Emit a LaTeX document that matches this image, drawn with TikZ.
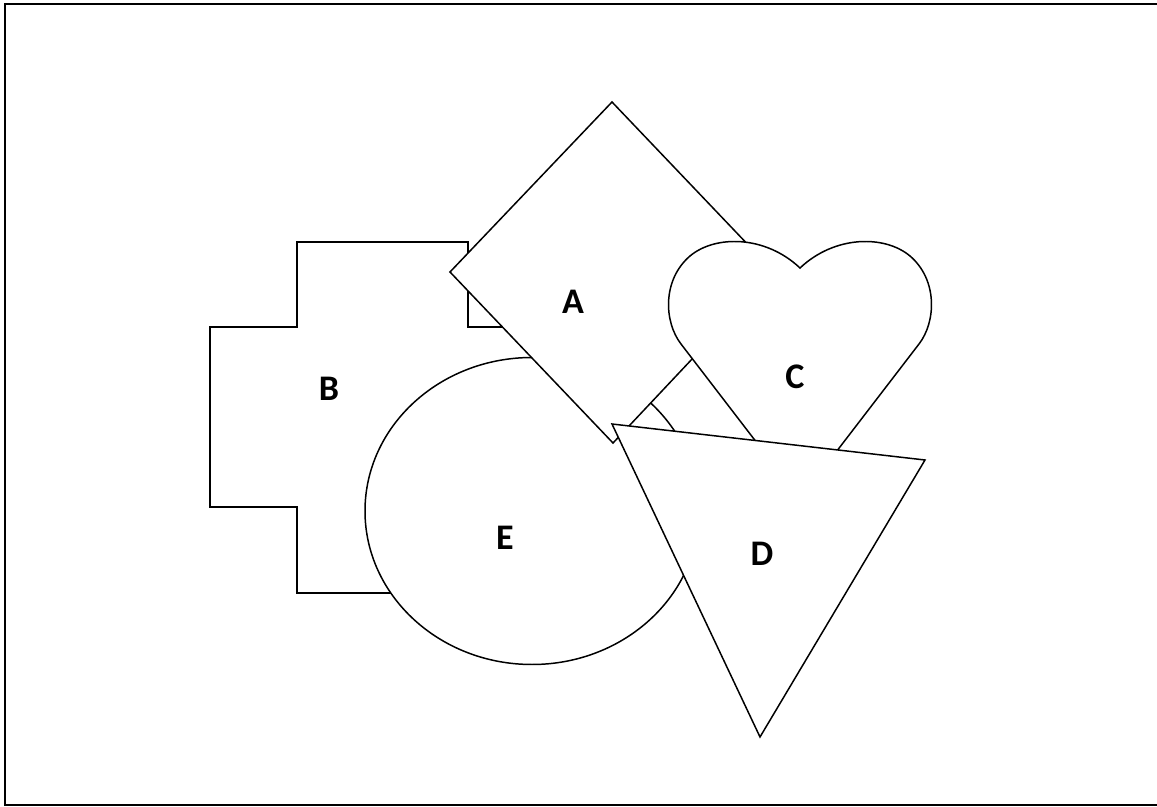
\documentclass[tikz,border=0pt]{standalone}
\usepackage{fontspec}
\setmainfont{Carlito}
\usepackage{tikz}
\usetikzlibrary{positioning}
\tikzset{
  frame/.style  = {draw, line width=1.1pt},
  figure/.style = {draw, fill=white, line width=0.85pt, line join=miter},
  letter/.style = {font=\bfseries\fontsize{20.5}{24}\selectfont, inner sep=0pt},
}

\begin{document}
\begin{tikzpicture}[x=0.02cm, y=-0.02cm]

  \useasboundingbox (0,0) rectangle (1157,807);
  \draw[frame] (5,4) rectangle (1160,805);

  % B: cross
  \draw[figure] (297,242) -- (468,242) -- (468,327) -- (555,327) -- (555,507)
    -- (468,507) -- (468,593) -- (297,593) -- (297,507) -- (210,507)
    -- (210,327) -- (297,327) -- cycle;

  % E: ellipse
  \draw[figure] (532,511) ellipse [x radius=167, y radius=153.5];

  % A: diamond
  \draw[figure] (612,102) -- (774,272) -- (613,443) -- (450,272) -- cycle;

  % C: heart
  \draw[figure] (800,499) -- (681,344)
    .. controls (664,322) and (662,280) .. (690,256)
    .. controls (715,235) and (765,235) .. (800,268)
    .. controls (835,235) and (885,235) .. (910,256)
    .. controls (938,280) and (936,322) .. (919,344) -- cycle;

  % D: triangle
  \draw[figure] (612,424) -- (925,460) -- (760,737) -- cycle;

  % labels
  \node[letter] (lblA) at (573,302) {A};
  \node[letter] (lblB) at (329,389) {B};
  \node[letter] (lblC) at (795,377) {C};
  \node[letter] (lblD) at (762,554) {D};
  \node[letter] (lblE) at (505,538) {E};

\end{tikzpicture}
\end{document}
